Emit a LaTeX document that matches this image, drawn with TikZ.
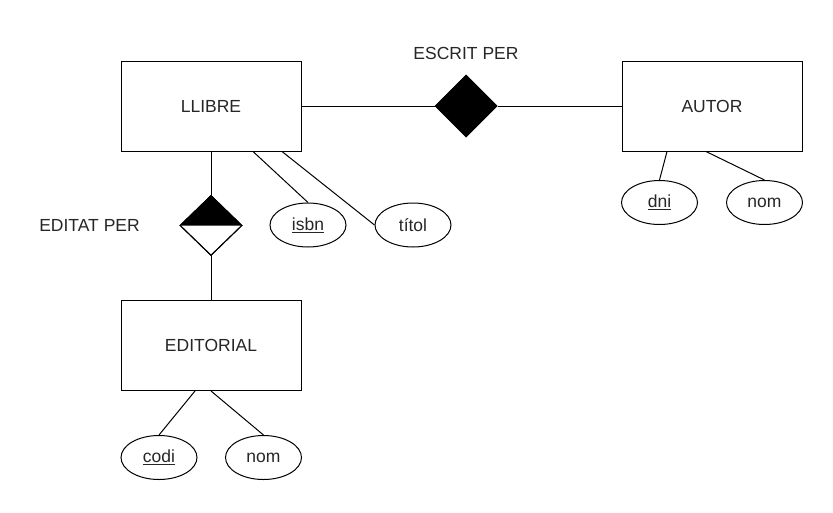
\documentclass[tikz,border=0pt]{standalone}
\usepackage{fontspec}
\setmainfont{Liberation Sans}
\usetikzlibrary{shapes.geometric}
\begin{document}
\begin{tikzpicture}[x=1pt,y=-1pt,line width=1pt,
  every node/.style={font=\fontsize{17.5}{21}\selectfont,text=black!85},
  entity/.style={draw,rectangle,minimum width=180pt,minimum height=90pt,inner sep=0pt},
  attr/.style={draw,ellipse,minimum width=76pt,minimum height=44pt,inner sep=0pt},
  rel/.style={draw,diamond,minimum width=62pt,minimum height=62pt,inner sep=0pt},
  lbl/.style={inner sep=0pt}]
\useasboundingbox (0,0) rectangle (833,512);
\node[entity] (llibre) at (211,106) {LLIBRE};
\node[entity] (autor) at (712,106) {AUTOR};
\node[entity] (editorial) at (211,345.5) {EDITORIAL};
\node[rel,fill=black] (escrit) at (466,106) {};
\node[lbl] (escritl) at (466,53) {ESCRIT PER};
\node[rel,minimum height=60pt] (editat) at (211,225.5) {};
\fill (editat.west) -- (editat.north) -- (editat.east) -- cycle;
\node[rel,minimum height=60pt] at (211,225.5) {};
\node[lbl] (editatl) at (89.5,225) {EDITAT PER};
\node[attr] (isbn) at (308,225) {\underline{isbn}};
\node[attr] (titol) at (413,225) {títol};
\node[attr] (dni) at (659.5,202.5) {\underline{dni}};
\node[attr] (nomA) at (764.5,202.5) {nom};
\node[attr] (codi) at (159,457.5) {\underline{codi}};
\node[attr] (nomE) at (263.5,457.5) {nom};
\draw (llibre.east) -- (escrit.west);
\draw (escrit.east) -- (autor.west);
\draw (llibre.south) -- (editat.north);
\draw (editat.south) -- (editorial.north);
\draw ([xshift=42pt]llibre.south) -- (isbn.north);
\draw ([xshift=71pt]llibre.south) -- (titol.west);
\draw ([xshift=-45pt]autor.south) -- (dni.north);
\draw ([xshift=-6pt]autor.south) -- (nomA.north);
\draw ([xshift=-16pt]editorial.south) -- (codi.north);
\draw ([xshift=0pt]editorial.south) -- (nomE.north);
\end{tikzpicture}
\end{document}
